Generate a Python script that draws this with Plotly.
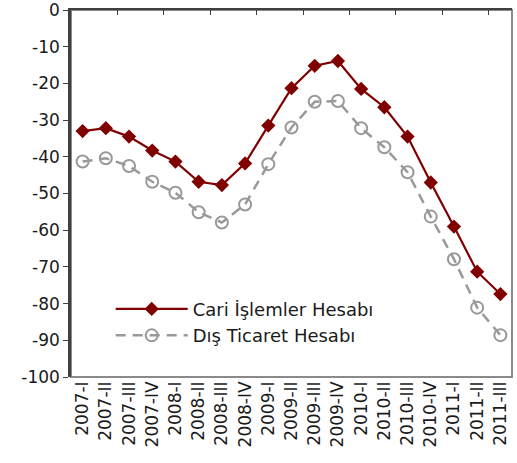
import plotly.graph_objects as go

quarters = ["2007-I", "2007-II", "2007-III", "2007-IV",
            "2008-I", "2008-II", "2008-III", "2008-IV",
            "2009-I", "2009-II", "2009-III", "2009-IV",
            "2010-I", "2010-II", "2010-III", "2010-IV",
            "2011-I", "2011-II", "2011-III"]
cari = [-33.0, -32.2, -34.5, -38.3, -41.3, -46.8, -47.7, -41.8,
        -31.5, -21.3, -15.2, -13.9, -21.5, -26.5, -34.5, -47.0,
        -59.0, -71.3, -77.4]
dis_ticaret = [-41.3, -40.4, -42.5, -46.8, -49.8, -55.1, -57.9, -53.0,
               -42.0, -32.0, -25.0, -24.8, -32.2, -37.4, -44.2, -56.3,
               -67.9, -81.1, -88.6]
y_ticks = list(range(0, -101, -10))
y_labels = [str(v) for v in y_ticks]  # plain hyphen, not unicode minus

font = "DejaVu Sans"
dark = "#404040"

fig = go.Figure()
fig.add_trace(go.Scatter(
    x=quarters, y=dis_ticaret, name="Dış Ticaret Hesabı", mode="lines+markers",
    line=dict(color="#999999", width=2.5, dash="10px,7px"),
    marker=dict(symbol="circle-open", size=12, color="#999999", line=dict(width=2)),
))
fig.add_trace(go.Scatter(
    x=quarters, y=cari, name="Cari İşlemler Hesabı", mode="lines+markers",
    line=dict(color="#800000", width=2.2),
    marker=dict(symbol="diamond", size=11, color="#800000"),
))
# invisible trace to carry the top axis
fig.add_trace(go.Scatter(x=[0], y=[0], xaxis="x2", showlegend=False,
                         mode="markers", marker=dict(opacity=0), hoverinfo="skip"))

fig.add_shape(type="rect", xref="paper", yref="paper", x0=0, x1=1, y0=0, y1=1,
              line=dict(color="#8a8a8a", width=2), layer="below")

fig.update_layout(
    width=517, height=463,
    margin=dict(l=71, r=5, t=10, b=86),
    plot_bgcolor="white", paper_bgcolor="white",
    font=dict(family=font, size=17, color="#1a1a1a"),
    legend=dict(x=0.09, y=0.235, xanchor="left", yanchor="top",
                traceorder="reversed", itemwidth=72, tracegroupgap=0,
                bgcolor="rgba(0,0,0,0)", font=dict(size=18)),
    xaxis=dict(type="category", range=[-0.5, 18.5], tickangle=-90,
               showgrid=False, ticks="", showline=False, automargin=False,
               tickfont=dict(size=17)),
    xaxis2=dict(overlaying="x", side="top", range=[-0.5, 18.5],
                tickvals=[-0.5 + 2 * k for k in range(1, 10)],
                ticks="inside", ticklen=5, tickcolor=dark, tickwidth=1,
                showticklabels=False, showgrid=False, zeroline=False,
                showline=True, linecolor=dark, linewidth=2, automargin=False),
    yaxis=dict(range=[-100, 0], tickvals=y_ticks, ticktext=y_labels,
               showgrid=False, zeroline=False, automargin=False,
               ticklabeloverflow="allow",
               ticks="outside", ticklen=5, tickcolor=dark,
               showline=True, linecolor=dark, linewidth=2.5,
               tickfont=dict(size=17)),
    showlegend=True,
)

fig.write_html("out.html", config={"displayModeBar": False},
               post_script="document.body.style.margin='0';")
